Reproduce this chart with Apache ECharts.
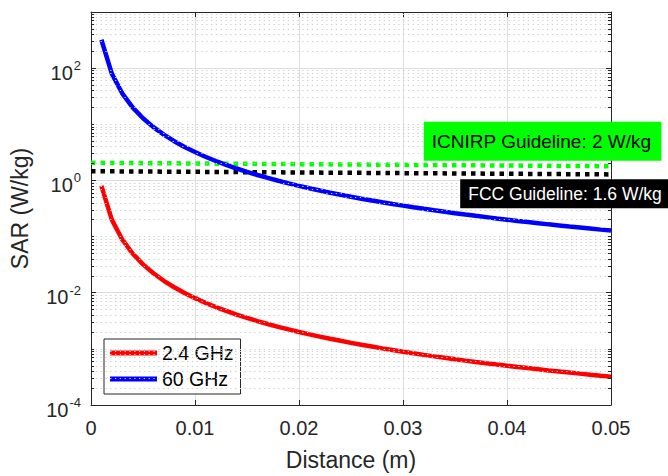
<!DOCTYPE html>
<html>
<head>
<meta charset="utf-8">
<script src="https://cdn.jsdelivr.net/npm/echarts@6/dist/echarts.min.js"></script>
<style>
  html, body { margin: 0; padding: 0; background: #fff; }
  #chart { width: 668px; height: 476px; }
</style>
</head>
<body>
<div id="chart"></div>
<script>
// ---------- data ----------
const distance = [0.001,0.002,0.003,0.004,0.005,0.006,0.007,0.008,0.009,0.010,
  0.011,0.012,0.013,0.014,0.015,0.016,0.017,0.018,0.019,0.020,
  0.021,0.022,0.023,0.024,0.025,0.026,0.027,0.028,0.029,0.030,
  0.031,0.032,0.033,0.034,0.035,0.036,0.037,0.038,0.039,0.040,
  0.041,0.042,0.043,0.044,0.045,0.046,0.047,0.048,0.049,0.050];
const sar24GHz = [0.8,0.2,0.0889,0.05,0.032,0.0222,0.0163,0.0125,0.00988,0.008,
  0.00661,0.00556,0.00473,0.00408,0.00356,0.003125,0.00277,0.00247,0.00222,0.002,
  0.00181,0.00165,0.00151,0.00139,0.00128,0.00118,0.0011,0.00102,0.000951,0.000889,
  0.000832,0.000781,0.000735,0.000692,0.000653,0.000617,0.000584,0.000554,0.000526,0.0005,
  0.000476,0.000454,0.000433,0.000413,0.000395,0.000378,0.000362,0.000347,0.000333,0.00032];
const sar60GHz = [320,80,35.6,20,12.8,8.89,6.53,5.0,3.95,3.2,
  2.64,2.22,1.89,1.63,1.42,1.25,1.11,0.988,0.886,0.8,
  0.726,0.661,0.605,0.556,0.512,0.473,0.439,0.408,0.38,0.356,
  0.333,0.3125,0.294,0.277,0.261,0.247,0.234,0.222,0.21,0.2,
  0.19,0.181,0.173,0.165,0.158,0.151,0.145,0.139,0.133,0.128];
const icnirpX = [0, 0.05];
const icnirpY = [2.06, 1.79];
const fccX = [0, 0.05];
const fccY = [1.46, 1.28];
const seriesNames = ['2.4 GHz', '60 GHz'];
const icnirpText = 'ICNIRP Guideline: 2 W/kg';
const fccText = 'FCC Guideline: 1.6 W/kg';
const icnirpAnchor = [0.032, 5];
const fccAnchor = [0.0355, 0.58];
const xTickLabels = ['0', '0.01', '0.02', '0.03', '0.04', '0.05'];
const yTickExponents = [-4, -2, 0, 2];
const yMinorDecades = [-4, -3, -2, -1, 0, 1, 2];
const yMinorMultipliers = [2, 3, 4, 5, 6, 7, 8, 9];
const yOddDecades = [-3, -1, 1];

// ---------- build ----------
const FONT = "'Liberation Sans', Arial, Helvetica, sans-serif";
const AXIS_COLOR = '#262626';
const X_MIN = 0, X_MAX = 0.05;

function zip(xs, ys) { return xs.map((x, i) => [x, ys[i]]); }

const minorVals = [];
yMinorDecades.forEach(e => yMinorMultipliers.forEach(m => minorVals.push(+(m * Math.pow(10, e)).toPrecision(3))));
const minorGridVals = minorVals.concat(yOddDecades.map(e => Math.pow(10, e)));

const tickLenX = 0.0003; // minor tick length in data units of x
const minorGridLines = minorGridVals.map(v => [{ coord: [X_MIN, v] }, { coord: [X_MAX, v] }]);
const minorTickLines = [];
minorGridVals.forEach(v => {
  minorTickLines.push([{ coord: [X_MIN, v] }, { coord: [X_MIN + tickLenX, v] }]);
  minorTickLines.push([{ coord: [X_MAX - tickLenX, v] }, { coord: [X_MAX, v] }]);
});

const chart = echarts.init(document.getElementById('chart'), null, { renderer: 'svg' });

const yLabelRich = {
  b: { fontSize: 20, color: AXIS_COLOR, fontFamily: FONT, lineHeight: 20, padding: [9, 0, 0, 0] },
  s: { fontSize: 13, color: AXIS_COLOR, fontFamily: FONT, lineHeight: 13, padding: [0, 0, 5, 1] }
};

const option = {
  animation: false,
  backgroundColor: '#fff',
  textStyle: { fontFamily: FONT },
  grid: { left: 91, right: 57, top: 12, bottom: 69, containLabel: false },
  legend: {
    data: seriesNames,
    orient: 'vertical',
    left: 104, top: 339,
    backgroundColor: '#fff',
    borderColor: AXIS_COLOR, borderWidth: 1,
    padding: [3, 7, 4, 6],
    itemGap: 4,
    itemWidth: 47, itemHeight: 5,
    icon: 'rect',
    itemStyle: { borderWidth: 0 },
    textStyle: { fontSize: 19.5, lineHeight: 22, color: '#000', fontFamily: FONT }
  },
  xAxis: [{
    type: 'value', min: X_MIN, max: X_MAX, interval: 0.01,
    name: 'Distance (m)', nameLocation: 'middle', nameGap: 43,
    nameTextStyle: { fontSize: 23, color: AXIS_COLOR, fontFamily: FONT },
    axisLine: { show: true, onZero: false, lineStyle: { color: AXIS_COLOR, width: 1 } },
    axisTick: { show: true, inside: true, length: 5, lineStyle: { color: AXIS_COLOR } },
    axisLabel: { fontSize: 20, color: AXIS_COLOR, margin: 13, fontFamily: FONT,
      formatter: (v, i) => xTickLabels[i] !== undefined ? xTickLabels[i] : '' },
    splitLine: { show: true, lineStyle: { color: '#dedede', width: 1, type: 'solid' } }
  }, {
    type: 'value', position: 'top', min: X_MIN, max: X_MAX, interval: 0.01,
    axisLine: { show: true, onZero: false, lineStyle: { color: AXIS_COLOR, width: 1 } },
    axisTick: { show: true, inside: true, length: 5, lineStyle: { color: AXIS_COLOR } },
    axisLabel: { show: false }, splitLine: { show: false }
  }],
  yAxis: [{
    type: 'log', logBase: 10, min: 1e-4, max: 1e3, interval: 2,
    name: 'SAR (W/kg)', nameLocation: 'middle', nameGap: 60,
    nameTextStyle: { fontSize: 23, color: AXIS_COLOR, fontFamily: FONT },
    axisLine: { show: true, onZero: false, lineStyle: { color: AXIS_COLOR, width: 1 } },
    axisTick: { show: true, inside: true, length: 5, lineStyle: { color: AXIS_COLOR } },
    axisLabel: {
      margin: 10,
      formatter: function (v) {
        const e = Math.round(Math.log10(v));
        if (yTickExponents.indexOf(e) < 0) return '';
        return '{b|10}{s|' + e + '}';
      },
      rich: yLabelRich
    },
    splitLine: { show: true, lineStyle: { color: '#dedede', width: 1, type: 'solid' } }
  }, {
    type: 'log', logBase: 10, min: 1e-4, max: 1e3, interval: 2, position: 'right',
    axisLine: { show: true, onZero: false, lineStyle: { color: AXIS_COLOR, width: 1 } },
    axisTick: { show: true, inside: true, length: 5, lineStyle: { color: AXIS_COLOR } },
    axisLabel: { show: false }, splitLine: { show: false }
  }],
  series: [
    {
      name: 'minor', type: 'line', data: [], z: 1, silent: true,
      markLine: {
        silent: true, symbol: ['none', 'none'], animation: false,
        label: { show: false },
        lineStyle: { color: '#cdcdcd', width: 1, type: [1.3, 3.5] },
        data: minorGridLines
      }
    },
    {
      name: 'minorTicks', type: 'line', data: [], z: 5, silent: true,
      markLine: {
        silent: true, symbol: ['none', 'none'], animation: false,
        label: { show: false },
        lineStyle: { color: AXIS_COLOR, width: 1, type: 'solid' },
        data: minorTickLines
      }
    },
    {
      name: 'ICNIRP', type: 'line', data: zip(icnirpX, icnirpY), z: 3,
      showSymbol: false, symbol: 'none', silent: true,
      lineStyle: { color: '#00ff00', width: 4.5, type: [4.5, 5], cap: 'butt' },
      markPoint: {
        symbol: 'rect', symbolSize: 0, silent: true,
        data: [{ coord: icnirpAnchor }],
        label: { show: true, position: 'right', distance: 0, formatter: icnirpText,
          fontSize: 19, color: '#000', fontFamily: FONT, backgroundColor: '#00ff00',
          padding: [9, 10, 8, 8], lineHeight: 22 }
      }
    },
    {
      name: 'FCC', type: 'line', data: zip(fccX, fccY), z: 3,
      showSymbol: false, symbol: 'none', silent: true,
      lineStyle: { color: '#000000', width: 4.5, type: [4.5, 5], cap: 'butt' },
      markPoint: {
        symbol: 'rect', symbolSize: 0, silent: true,
        data: [{ coord: fccAnchor }],
        label: { show: true, position: 'right', distance: 0, formatter: fccText,
          fontSize: 17.5, color: '#fff', fontFamily: FONT, backgroundColor: '#000',
          padding: [4, 8, 4, 8], lineHeight: 21 }
      }
    },
    {
      name: seriesNames[0], type: 'line', data: zip(distance, sar24GHz), z: 4,
      showSymbol: false, symbol: 'none', color: '#ff0000',
      itemStyle: { color: '#ff0000' },
      lineStyle: { color: '#ff0000', width: 4.5, type: 'solid' }
    },
    {
      name: seriesNames[1], type: 'line', data: zip(distance, sar60GHz), z: 4,
      showSymbol: false, symbol: 'none', color: '#0000ff',
      itemStyle: { color: '#0000ff' },
      lineStyle: { color: '#0000ff', width: 4.5, type: 'solid' }
    }
  ]
};
chart.setOption(option);
</script>
</body>
</html>
